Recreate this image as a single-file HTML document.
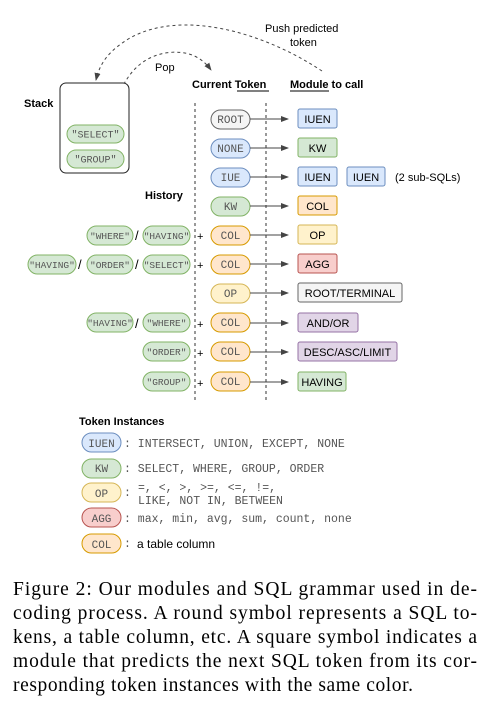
<!DOCTYPE html>
<html><head><meta charset="utf-8"><style>
html,body{margin:0;padding:0;background:#fff;}
svg{display:block;}
.m{font-family:"Liberation Mono",monospace;font-size:11px;fill:#555;}
.s{font-family:"Liberation Sans",sans-serif;font-size:11px;fill:#000;}
.b{font-family:"Liberation Sans",sans-serif;font-size:11px;font-weight:bold;fill:#000;}
.c{font-family:"Liberation Serif",serif;font-size:19.5px;fill:#000;}
</style></head><body>
<svg width="493" height="706" viewBox="0 0 493 706" xmlns="http://www.w3.org/2000/svg">
<defs>
<marker id="ar" markerWidth="8" markerHeight="8" refX="7" refY="4" orient="auto" markerUnits="userSpaceOnUse"><path d="M0,1 L8,4 L0,7 z" fill="#444"/></marker>
</defs>
<path d="M322,71 C260,30 180,10 130,38 C110,50 100,62 96,80" fill="none" stroke="#444" stroke-width="1" stroke-dasharray="3,3" marker-end="url(#ar)"/>
<path d="M110,124 C118,90 130,60 165,53 C185,50 200,55 211,70" fill="none" stroke="#444" stroke-width="1" stroke-dasharray="3,3" marker-end="url(#ar)"/>
<text class="s" x="265" y="32">Push predicted</text>
<text class="s" x="290" y="46">token</text>
<text class="s" x="155" y="71">Pop</text>
<rect x="60" y="83" width="69" height="90" rx="6" fill="#fff" stroke="#222" stroke-width="1"/>
<text class="b" x="24" y="107">Stack</text>
<rect x="67" y="125" width="57" height="18" rx="9" fill="#d5e8d4" stroke="#82b366"/>
<text class="m" x="95.5" y="137.5" text-anchor="middle" style="font-size:10px">"SELECT"</text>
<rect x="67" y="150" width="57" height="18" rx="9" fill="#d5e8d4" stroke="#82b366"/>
<text class="m" x="95.5" y="162.5" text-anchor="middle" style="font-size:10px">"GROUP"</text>
<text class="b" x="192" y="88">Current Token</text>
<line x1="237" y1="91" x2="269" y2="91" stroke="#000"/>
<text class="b" x="290" y="88">Module to call</text>
<line x1="290" y1="91" x2="329" y2="91" stroke="#000"/>
<text class="b" x="145" y="199">History</text>
<line x1="195" y1="103" x2="195" y2="402" stroke="#333" stroke-dasharray="3,3"/>
<line x1="266" y1="103" x2="266" y2="402" stroke="#333" stroke-dasharray="3,3"/>
<rect x="211" y="110" width="39" height="19" rx="9.5" fill="#f5f5f5" stroke="#666"/><text class="m" x="230.5" y="123" text-anchor="middle">ROOT</text>
<rect x="211" y="139" width="39" height="19" rx="9.5" fill="#dae8fc" stroke="#6c8ebf"/><text class="m" x="230.5" y="152" text-anchor="middle">NONE</text>
<rect x="211" y="168" width="39" height="19" rx="9.5" fill="#dae8fc" stroke="#6c8ebf"/><text class="m" x="230.5" y="181" text-anchor="middle">IUE</text>
<rect x="211" y="197" width="39" height="19" rx="9.5" fill="#d5e8d4" stroke="#82b366"/><text class="m" x="230.5" y="210" text-anchor="middle">KW</text>
<rect x="211" y="226" width="39" height="19" rx="9.5" fill="#ffe6cc" stroke="#d79b00"/><text class="m" x="230.5" y="239" text-anchor="middle">COL</text>
<rect x="211" y="255" width="39" height="19" rx="9.5" fill="#ffe6cc" stroke="#d79b00"/><text class="m" x="230.5" y="268" text-anchor="middle">COL</text>
<rect x="211" y="284" width="39" height="19" rx="9.5" fill="#fff2cc" stroke="#d6b656"/><text class="m" x="230.5" y="297" text-anchor="middle">OP</text>
<rect x="211" y="313" width="39" height="19" rx="9.5" fill="#ffe6cc" stroke="#d79b00"/><text class="m" x="230.5" y="326" text-anchor="middle">COL</text>
<rect x="211" y="342" width="39" height="19" rx="9.5" fill="#ffe6cc" stroke="#d79b00"/><text class="m" x="230.5" y="355" text-anchor="middle">COL</text>
<rect x="211" y="372" width="39" height="19" rx="9.5" fill="#ffe6cc" stroke="#d79b00"/><text class="m" x="230.5" y="385" text-anchor="middle">COL</text>
<g stroke="#444" stroke-width="1" marker-end="url(#ar)">
<line x1="250" y1="119" x2="288" y2="119"/><line x1="250" y1="148" x2="288" y2="148"/>
<line x1="250" y1="177" x2="288" y2="177"/><line x1="250" y1="206" x2="288" y2="206"/>
<line x1="250" y1="235" x2="288" y2="235"/><line x1="250" y1="264" x2="288" y2="264"/>
<line x1="250" y1="293" x2="288" y2="293"/><line x1="250" y1="323" x2="288" y2="323"/>
<line x1="250" y1="352" x2="288" y2="352"/><line x1="250" y1="382" x2="288" y2="382"/>
</g>
<rect x="298" y="109" width="39" height="19" rx="2" fill="#dae8fc" stroke="#6c8ebf"/><text class="s" x="317.5" y="123" text-anchor="middle">IUEN</text>
<rect x="298" y="138" width="39" height="19" rx="2" fill="#d5e8d4" stroke="#82b366"/><text class="s" x="317.5" y="152" text-anchor="middle">KW</text>
<rect x="298" y="167" width="39" height="19" rx="2" fill="#dae8fc" stroke="#6c8ebf"/><text class="s" x="317.5" y="181" text-anchor="middle">IUEN</text>
<rect x="347" y="167" width="38" height="19" rx="2" fill="#dae8fc" stroke="#6c8ebf"/><text class="s" x="366" y="181" text-anchor="middle">IUEN</text>
<text class="s" x="395" y="181">(2 sub-SQLs)</text>
<rect x="298" y="196" width="39" height="19" rx="2" fill="#ffe6cc" stroke="#d79b00"/><text class="s" x="317.5" y="210" text-anchor="middle">COL</text>
<rect x="298" y="225" width="39" height="19" rx="2" fill="#fff2cc" stroke="#d6b656"/><text class="s" x="317.5" y="239" text-anchor="middle">OP</text>
<rect x="298" y="254" width="39" height="19" rx="2" fill="#f8cecc" stroke="#b85450"/><text class="s" x="317.5" y="268" text-anchor="middle">AGG</text>
<rect x="298" y="283" width="104" height="19" rx="2" fill="#f5f5f5" stroke="#666"/><text class="s" x="350" y="297" text-anchor="middle">ROOT/TERMINAL</text>
<rect x="298" y="313" width="60" height="19" rx="2" fill="#e1d5e7" stroke="#9673a6"/><text class="s" x="328" y="327" text-anchor="middle">AND/OR</text>
<rect x="298" y="342" width="99" height="19" rx="2" fill="#e1d5e7" stroke="#9673a6"/><text class="s" x="347.5" y="356" text-anchor="middle">DESC/ASC/LIMIT</text>
<rect x="298" y="372" width="48" height="19" rx="2" fill="#d5e8d4" stroke="#82b366"/><text class="s" x="322" y="386" text-anchor="middle">HAVING</text>
<g fill="#d5e8d4" stroke="#82b366">
<rect x="87" y="226" width="46" height="19" rx="9.5"/><rect x="143" y="226" width="47" height="19" rx="9.5"/>
<rect x="28" y="255" width="48" height="19" rx="9.5"/><rect x="87" y="255" width="46" height="19" rx="9.5"/><rect x="143" y="255" width="47" height="19" rx="9.5"/>
<rect x="87" y="313" width="46" height="19" rx="9.5"/><rect x="143" y="313" width="47" height="19" rx="9.5"/>
<rect x="143" y="342" width="47" height="19" rx="9.5"/><rect x="143" y="372" width="47" height="19" rx="9.5"/>
</g>
<g class="m" text-anchor="middle" style="font-size:9.5px">
<text x="110" y="239">"WHERE"</text><text x="166.5" y="239">"HAVING"</text>
<text x="52" y="268">"HAVING"</text><text x="110" y="268">"ORDER"</text><text x="166.5" y="268">"SELECT"</text>
<text x="110" y="326">"HAVING"</text><text x="166.5" y="326">"WHERE"</text>
<text x="166.5" y="355">"ORDER"</text><text x="166.5" y="385">"GROUP"</text>
</g>
<g class="s" style="font-size:13px">
<text x="135" y="240">/</text><text x="78" y="269">/</text><text x="135" y="269">/</text><text x="135" y="328">/</text>
</g>
<g class="s">
<text x="197" y="240">+</text><text x="197" y="269">+</text><text x="197" y="328">+</text><text x="197" y="357">+</text><text x="197" y="387">+</text>
</g>
<text class="b" x="79" y="425">Token Instances</text>
<rect x="82" y="433" width="39" height="19" rx="9.5" fill="#dae8fc" stroke="#6c8ebf"/><text class="m" x="101.5" y="447" text-anchor="middle">IUEN</text>
<rect x="82" y="459" width="39" height="19" rx="9.5" fill="#d5e8d4" stroke="#82b366"/><text class="m" x="101.5" y="472" text-anchor="middle">KW</text>
<rect x="82" y="483" width="39" height="19" rx="9.5" fill="#fff2cc" stroke="#d6b656"/><text class="m" x="101.5" y="497" text-anchor="middle">OP</text>
<rect x="82" y="508" width="39" height="19" rx="9.5" fill="#f8cecc" stroke="#b85450"/><text class="m" x="101.5" y="522" text-anchor="middle">AGG</text>
<rect x="82" y="534" width="39" height="19" rx="9.5" fill="#ffe6cc" stroke="#d79b00"/><text class="m" x="101.5" y="548" text-anchor="middle">COL</text>
<g class="m" style="font-size:11.5px">
<text x="124" y="447">: INTERSECT, UNION, EXCEPT, NONE</text>
<text x="124" y="472">: SELECT, WHERE, GROUP, ORDER</text>
<text x="124" y="496">:</text>
<text x="138" y="491">=, &lt;, &gt;, &gt;=, &lt;=, !=,</text>
<text x="138" y="504">LIKE, NOT IN, BETWEEN</text>
<text x="124" y="522">: max, min, avg, sum, count, none</text>
<text x="124" y="547">:</text>
</g>
<text class="s" x="137" y="548" style="font-size:12px">a table column</text>
<g class="c">
<text x="13" y="595" textLength="464" lengthAdjust="spacing">Figure 2: Our modules and SQL grammar used in de-</text>
<text x="13" y="619" textLength="464" lengthAdjust="spacing">coding process. A round symbol represents a SQL to-</text>
<text x="13" y="643" textLength="464" lengthAdjust="spacing">kens, a table column, etc. A square symbol indicates a</text>
<text x="13" y="667" textLength="464" lengthAdjust="spacing">module that predicts the next SQL token from its cor-</text>
<text x="13" y="691" textLength="400" lengthAdjust="spacing">responding token instances with the same color.</text>
</g>
</svg>
</body></html>
